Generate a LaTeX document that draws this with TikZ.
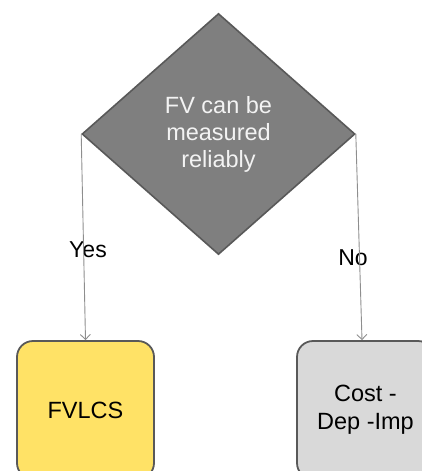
\documentclass[tikz,border=0pt]{standalone}
\usepackage{fontspec}
\setmainfont{Liberation Sans}
\usetikzlibrary{shapes.geometric,arrows.meta}
\definecolor{dfill}{HTML}{7F7F7F}
\definecolor{dborder}{HTML}{595959}
\definecolor{dtext}{HTML}{F3F3F3}
\definecolor{yfill}{HTML}{FFE266}
\definecolor{gfill}{HTML}{D9D9D9}
\definecolor{linkc}{HTML}{8E8E8E}
\tikzset{
  decision/.style={diamond, draw=dborder, fill=dfill, line width=1.6pt,
    minimum width=273pt, minimum height=241pt, inner sep=0pt,
    text=dtext, align=center, font=\fontsize{23.5}{27}\selectfont},
  outcome/.style={rectangle, rounded corners=16pt, draw=dborder, line width=1.8pt,
    minimum width=137pt, minimum height=138pt, inner sep=0pt,
    align=center, font=\fontsize{23.5}{28}\selectfont},
  lbl/.style={font=\fontsize{23}{27}\selectfont, inner sep=0pt},
  link/.style={draw=linkc, line width=0.9pt, -{Straight Barb[length=5pt,width=10pt]}}
}
\begin{document}
\begin{tikzpicture}[x=1pt,y=-1pt]
\useasboundingbox (0,0) rectangle (422,471);
\clip (0,0) rectangle (422,471);
\node[decision] (d) at (218.5,134) {FV can be\\measured\\reliably};
\node[outcome, fill=yfill] (fv) at (85.5,410) {FVLCS};
\node[outcome, fill=gfill] (cost) at (365.5,410) {Cost -\\Dep -Imp};
\node[lbl] (yes) at (88,250) {Yes};
\node[lbl] (no) at (353,258) {No};
\draw[link] (d.west) -- (fv.north);
\draw[link] (d.east) -- ([xshift=-3.5pt]cost.north);
\end{tikzpicture}
\end{document}
